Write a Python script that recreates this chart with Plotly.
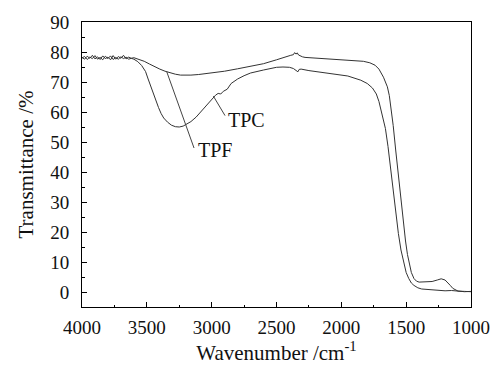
import plotly.graph_objects as go

# TPF (upper curve)
tpf_wn = [4000, 3980, 3960, 3940, 3920, 3900, 3880, 3860, 3840, 3820, 3800, 3780, 3760, 3740,
          3720, 3700, 3680, 3660, 3640, 3620, 3600, 3560, 3520, 3480, 3440, 3400, 3360, 3320,
          3280, 3240, 3200, 3160, 3100, 3000, 2900, 2800, 2700, 2600, 2500, 2450, 2420, 2390,
          2370, 2360, 2350, 2340, 2330, 2315, 2300, 2280, 2200, 2100, 2000, 1900, 1830, 1780,
          1740, 1710, 1690, 1675, 1660, 1645, 1630, 1615, 1600, 1580, 1560, 1540, 1520, 1505,
          1490, 1475, 1460, 1440, 1420, 1400, 1350, 1300, 1260, 1230, 1200, 1180, 1160, 1140,
          1120, 1100, 1050, 1000]
tpf_t = [78.2, 77.6, 78.6, 77.9, 78.9, 77.7, 78.4, 77.5, 78.7, 77.8, 78.3, 77.4, 78.8, 77.6,
         78.5, 77.9, 78.9, 77.7, 78.3, 77.9, 78.1, 77.6, 76.9, 76.0, 75.1, 74.3, 73.6, 73.0,
         72.6, 72.3, 72.2, 72.3, 72.5, 73.0, 73.6, 74.4, 75.2, 76.1, 77.4, 78.2, 78.6, 78.9,
         79.1, 79.8, 79.3, 79.7, 79.0, 78.6, 78.4, 78.2, 78.0, 77.8, 77.4, 77.2, 76.9, 76.4,
         75.6, 74.3, 72.8, 71.6, 70.0, 68.4, 65.5, 61.0, 55.5, 47.0, 39.0, 31.0, 22.0, 17.0,
         12.5, 9.0, 6.5, 4.5, 3.6, 3.3, 3.3, 3.5, 4.0, 4.4, 4.0, 3.2, 2.2, 1.2,
         0.6, 0.3, 0.2, 0.1]

# TPC (lower curve with broad dip)
tpc_wn = [4000, 3980, 3960, 3940, 3920, 3900, 3880, 3860, 3840, 3820, 3800, 3780, 3760, 3740,
          3720, 3700, 3680, 3660, 3640, 3620, 3600, 3570, 3540, 3510, 3490, 3470, 3450, 3430,
          3410, 3390, 3370, 3340, 3310, 3280, 3250, 3220, 3190, 3160, 3120, 3080, 3040, 3000,
          2970, 2950, 2930, 2910, 2880, 2850, 2800, 2750, 2700, 2600, 2500, 2450, 2400, 2370,
          2350, 2335, 2325, 2310, 2250, 2150, 2050, 1950, 1850, 1800, 1760, 1730, 1710, 1690,
          1675, 1660, 1640, 1620, 1600, 1580, 1560, 1540, 1520, 1500, 1480, 1460, 1440, 1410,
          1380, 1300, 1250, 1200, 1150, 1100, 1050, 1000]
tpc_t = [78.0, 78.5, 77.5, 78.3, 77.8, 78.8, 77.6, 78.2, 77.4, 78.6, 77.8, 78.7, 77.5, 78.2,
         77.6, 78.4, 77.8, 78.3, 77.6, 77.9, 77.6, 76.8, 75.5, 73.5, 71.0, 68.5, 66.2, 63.8,
         61.5, 59.5, 58.0, 56.6, 55.6, 55.1, 55.0, 55.3, 56.0, 56.8, 58.3, 60.2, 62.3, 64.3,
         65.6, 66.2, 66.0, 66.9, 67.6, 69.5, 71.0, 72.1, 73.0, 74.0, 74.9, 75.0, 74.9, 74.5,
         73.9, 73.4, 74.2, 74.3, 73.8, 73.2, 72.6, 72.0, 70.6, 69.5, 68.0, 66.0, 63.5, 60.0,
         57.5, 54.5, 48.5, 41.0, 34.0, 26.5, 19.5, 14.0, 10.0, 6.5, 4.5, 3.0, 2.2, 1.4,
         1.0, 0.7, 0.5, 0.4, 0.5, 0.3, 0.1, 0.2]

x_ticks = [4000, 3500, 3000, 2500, 2000, 1500, 1000]
y_ticks = [0, 10, 20, 30, 40, 50, 60, 70, 80, 90]

FONT = "Liberation Serif"

fig = go.Figure()
fig.add_trace(go.Scatter(x=tpf_wn, y=tpf_t, mode="lines", name="TPF",
                         line=dict(color="#333333", width=1)))
fig.add_trace(go.Scatter(x=tpc_wn, y=tpc_t, mode="lines", name="TPC",
                         line=dict(color="#333333", width=1)))

# leader lines
fig.add_shape(type="line", x0=2897, y0=58.8, x1=2987, y1=65.3,
              line=dict(color="#444", width=1), xref="x", yref="y")
fig.add_shape(type="line", x0=3136, y0=48.0, x1=3347, y1=73.5,
              line=dict(color="#444", width=1), xref="x", yref="y")
fig.add_annotation(x=2735, y=57.5, text="TPC", showarrow=False,
                   font=dict(family=FONT, size=20, color="#111"))
fig.add_annotation(x=2974, y=47.3, text="TPF", showarrow=False,
                   font=dict(family=FONT, size=20, color="#111"))

fig.update_layout(
    width=502, height=372,
    margin=dict(l=82, r=31, t=17, b=65),
    plot_bgcolor="white", paper_bgcolor="white",
    showlegend=False,
    font=dict(family=FONT, size=19, color="#111"),
)
fig.update_xaxes(
    range=[4000, 1000], tickvals=x_ticks, ticktext=[str(v) for v in x_ticks],
    ticks="inside", ticklen=5, tickwidth=1, tickcolor="black",
    minor=dict(dtick=250, tick0=1000, ticks="inside", ticklen=2, tickcolor="black"),
    showline=True, linecolor="black", linewidth=1, mirror=True,
    showgrid=False, zeroline=False, ticklabelstandoff=3,
    tickfont=dict(family=FONT, size=19),
    title=dict(text="Wavenumber /cm<sup>-1</sup>", font=dict(family=FONT, size=21), standoff=6),
)
fig.update_yaxes(
    range=[-5, 90], tickvals=y_ticks, ticktext=[str(v) for v in y_ticks],
    ticks="inside", ticklen=5, tickwidth=1, tickcolor="black",
    minor=dict(dtick=5, tick0=0, ticks="inside", ticklen=3, tickcolor="black"),
    showline=True, linecolor="black", linewidth=1, mirror=True,
    showgrid=False, zeroline=False, ticklabelstandoff=8,
    tickfont=dict(family=FONT, size=19),
    title=dict(text="Transmittance /%", font=dict(family=FONT, size=21), standoff=10),
)

fig.write_html("out.html")
